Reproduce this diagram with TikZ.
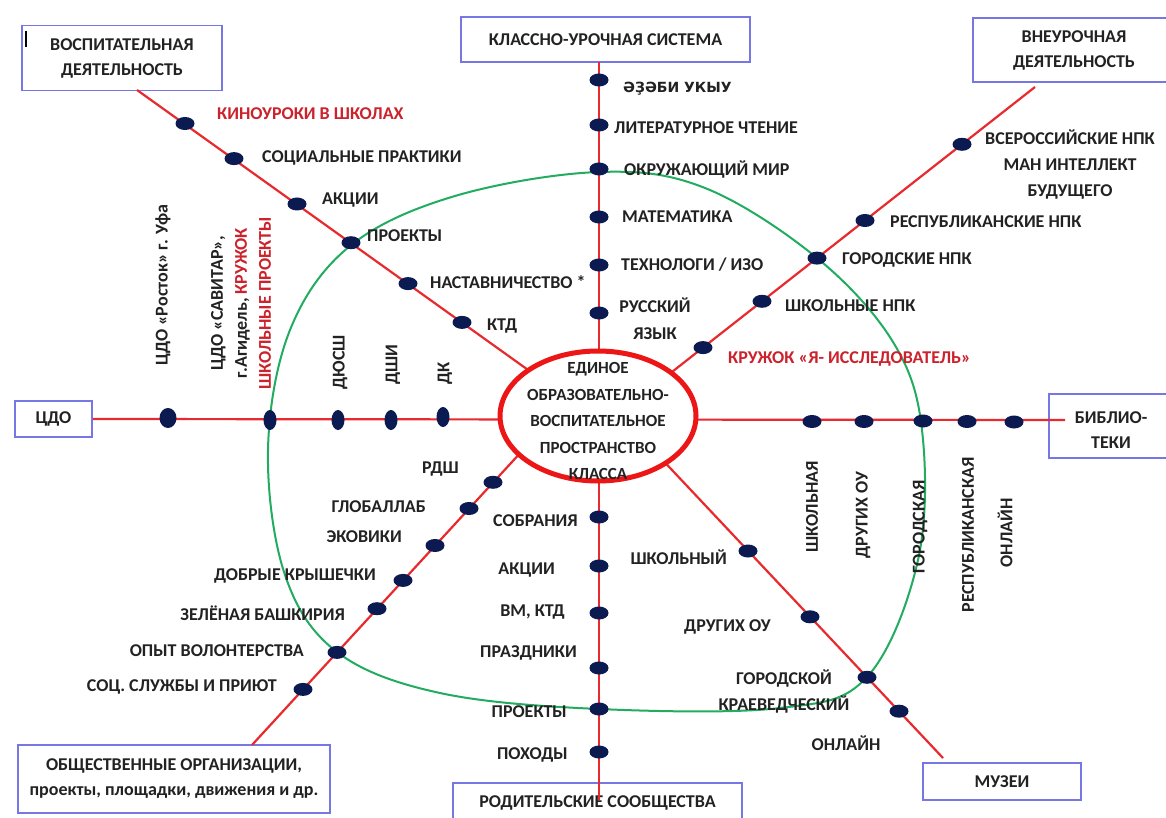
\documentclass[tikz,border=0pt]{standalone}
\usepackage{fontspec}
\setmainfont{Carlito}
\newfontfamily\dvs{DejaVu Sans}
\usetikzlibrary{shapes.geometric}
\definecolor{lnred}{RGB}{232,42,46}
\definecolor{hubred}{RGB}{236,22,22}
\definecolor{dotblue}{RGB}{12,26,82}
\definecolor{grn}{RGB}{34,172,96}
\definecolor{boxc}{RGB}{118,118,228}
\definecolor{txt}{RGB}{34,34,34}
\definecolor{rtxt}{RGB}{204,34,44}
\tikzset{
  rline/.style={draw=lnred, line width=2.2pt},
  gline/.style={draw=grn, line width=2pt},
  dotn/.style={ellipse, fill=dotblue, minimum width=19pt, minimum height=13pt, inner sep=0pt},
  vdotn/.style={ellipse, fill=dotblue, minimum width=13pt, minimum height=20pt, inner sep=0pt},
  boxn/.style={draw=boxc, line width=1.8pt, align=center, inner sep=0pt, text=txt,
    font=\bfseries\fontsize{18}{25}\selectfont},
  lbl/.style={font=\bfseries\fontsize{18}{26}\selectfont, text=txt, inner sep=0pt},
  rlbl/.style={lbl, text=rtxt},
}
\begin{document}
\begin{tikzpicture}[x=1pt,y=-1pt]
\useasboundingbox[fill=white] (0,0) rectangle (1166,818);

% ---------- boxes ----------
\node[boxn, minimum width=200pt, minimum height=65pt] (bVD) at (122,58) {ВОСПИТАТЕЛЬНАЯ\\ДЕЯТЕЛЬНОСТЬ};
\draw[line width=1.5pt, black] (26,31) -- (26,47);
\node[boxn, minimum width=289pt, minimum height=45pt] (bKUS) at (605.5,39.5) {КЛАССНО-УРОЧНАЯ СИСТЕМА};
\node[boxn, minimum width=202pt, minimum height=64pt] (bVUD) at (1074,50) {ВНЕУРОЧНАЯ\\ДЕЯТЕЛЬНОСТЬ};
\node[boxn, minimum width=77pt, minimum height=36pt] (bCDO) at (53.5,419) {ЦДО};
\node[boxn, minimum width=126pt, minimum height=64pt] (bBIB) at (1112,426) {};
\node[lbl, align=center, font=\bfseries\fontsize{18}{25}\selectfont] (tBIB) at (1111,430) {БИБЛИО-\\ТЕКИ};
\node[boxn, minimum width=312pt, minimum height=68pt] (bOBS) at (174,779) {ОБЩЕСТВЕННЫЕ ОРГАНИЗАЦИИ,\\проекты, площадки, движения и др.};
\node[boxn, minimum width=289pt, minimum height=40pt] (bROD) at (597.5,803) {РОДИТЕЛЬСКИЕ СООБЩЕСТВА};
\node[boxn, minimum width=158pt, minimum height=37pt] (bMUZ) at (1002,781.5) {МУЗЕИ};

% ---------- line end points ----------
\coordinate (nwA) at (137,90);
\coordinate (nwB) at (598,420);
\coordinate (vA) at (599,62);
\coordinate (vB) at (599,800);
\coordinate (neA) at (1035,87);
\coordinate (neB) at (598,430);
\coordinate (hlA) at (bCDO.east);
\coordinate (hlB) at (1065,420);
\coordinate (swA) at (252,745);
\coordinate (swB) at (545,426);
\coordinate (seA) at (640,436);
\coordinate (seB) at (943,758);

\draw[rline] (nwA) -- (nwB);
\draw[rline] (vA) -- (vB);
\draw[rline] (neA) -- (neB);
\draw[rline] (hlA) -- (hlB);
\draw[rline] (swA) -- (swB);
\draw[rline] (seA) -- (seB);

% ---------- green contour ----------
\draw[gline] plot[smooth cycle, tension=0.6] coordinates {
 (599,172) (705,188) (817,258) (893,342) (922,430) (918,560)
 (867,677) (780,708) (599,709) (440,693) (337,652) (285,575)
 (268,450) (290,330) (350,246) (455,196)};

% ---------- hub ----------
\node[ellipse, draw=hubred, fill=white, line width=5pt, minimum width=196pt, minimum height=130pt, inner sep=0pt] (hub) at (598,416) {};
\node[lbl, align=center, font=\bfseries\fontsize{17}{26.5}\selectfont] (hubtxt) at (598,421) {ЕДИНОЕ\\ОБРАЗОВАТЕЛЬНО-\\ВОСПИТАТЕЛЬНОЕ\\ПРОСТРАНСТВО\\КЛАССА};

% ---------- dots ----------
\node[dotn] (n1) at (185,123.5) {};
\node[dotn] (n2) at (234,158.6) {};
\node[dotn] (n3) at (297,204) {};
\node[dotn] (n4) at (351,242.7) {};
\node[dotn] (n5) at (408,283.6) {};
\node[dotn] (n6) at (462,322.4) {};

\node[dotn] (u1) at (599,80) {};
\node[dotn] (u2) at (599,125) {};
\node[dotn] (u3) at (599,169) {};
\node[dotn] (u4) at (599,217) {};
\node[dotn] (u5) at (599,265) {};
\node[dotn] (u6) at (599,313) {};

\node[dotn] (e1) at (962,144.3) {};
\node[dotn] (e2) at (865,220.5) {};
\node[dotn] (e3) at (817,258.1) {};
\node[dotn] (e4) at (762,301.3) {};
\node[dotn] (e5) at (703,347.6) {};

\node[vdotn, minimum width=17pt] (h1) at (168,418) {};
\node[vdotn] (h2) at (270,420) {};
\node[vdotn] (h3) at (338,420) {};
\node[vdotn] (h4) at (391,420) {};
\node[vdotn] (h5) at (443,417) {};

\node[dotn] (r1) at (812,421.5) {};
\node[dotn] (r2) at (864,421.5) {};
\node[dotn] (r3) at (923,421) {};
\node[dotn] (r4) at (967,421.5) {};
\node[dotn] (r5) at (1014,422) {};

\node[dotn] (s1) at (493,482.3) {};
\node[dotn] (s2) at (469,508.5) {};
\node[dotn] (s3) at (435,545.5) {};
\node[dotn] (s4) at (403,580.4) {};
\node[dotn] (s5) at (377,608.7) {};
\node[dotn] (s6) at (337,652.4) {};
\node[dotn] (s7) at (303,689.4) {};

\node[dotn] (d1) at (599,517) {};
\node[dotn] (d2) at (599,566) {};
\node[dotn] (d3) at (599,613) {};
\node[dotn] (d4) at (599,668) {};
\node[dotn] (d5) at (599,709) {};
\node[dotn] (d6) at (599,752) {};

\node[dotn] (m1) at (748,551) {};
\node[dotn] (m2) at (810,616.8) {};
\node[dotn] (m3) at (867,677.3) {};
\node[dotn] (m4) at (899,711.2) {};

% ---------- labels: NW ----------
\node[rlbl, anchor=west] (tn1) at (217,114) {КИНОУРОКИ В ШКОЛАХ};
\node[lbl, anchor=west] (tn2) at (262,158) {СОЦИАЛЬНЫЕ ПРАКТИКИ};
\node[lbl, anchor=west] (tn3) at (322,200) {АКЦИИ};
\node[lbl, anchor=west] (tn4) at (367,236) {ПРОЕКТЫ};
\node[lbl, anchor=west] (tn5) at (430,282) {НАСТАВНИЧЕСТВО *};
\node[lbl, anchor=west] (tn6) at (487,326) {КТД};

% ---------- labels: up ----------
\node[lbl, anchor=west, font=\dvs\bfseries\fontsize{14}{16}\selectfont] (tu1) at (623,89) {ӘҘӘБИ УКЫУ};
\node[lbl, anchor=west] (tu2) at (614,128) {ЛИТЕРАТУРНОЕ ЧТЕНИЕ};
\node[lbl, anchor=west] (tu3) at (624,170) {ОКРУЖАЮЩИЙ МИР};
\node[lbl, anchor=west] (tu4) at (622,217) {МАТЕМАТИКА};
\node[lbl, anchor=west] (tu5) at (621,265) {ТЕХНОЛОГИ / ИЗО};
\node[lbl, align=center] (tu6) at (655,319) {РУССКИЙ\\[1pt]ЯЗЫК};

% ---------- labels: NE ----------
\node[lbl, align=center] (te1) at (1070,165) {ВСЕРОССИЙСКИЕ НПК\\МАН ИНТЕЛЛЕКТ\\БУДУЩЕГО};
\node[lbl, anchor=west] (te2) at (890,222) {РЕСПУБЛИКАНСКИЕ НПК};
\node[lbl, anchor=west] (te3) at (842,260) {ГОРОДСКИЕ НПК};
\node[lbl, anchor=west] (te4) at (785,306) {ШКОЛЬНЫЕ НПК};
\node[rlbl, anchor=west] (te5) at (728,359) {КРУЖОК «Я- ИССЛЕДОВАТЕЛЬ»};

% ---------- labels: left vertical ----------
\node[lbl, rotate=90] (th1) at (163,285) {ЦДО «Росток» г. Уфа};
\node[lbl, rotate=90, align=center, font=\bfseries\fontsize{18}{24}\selectfont] (th2) at (241,303) {ЦДО «САВИТАР»,\\г.Агидель, \textcolor{rtxt}{КРУЖОК}\\\textcolor{rtxt}{ШКОЛЬНЫЕ ПРОЕКТЫ}};
\node[lbl, rotate=90] (th3) at (340,362) {ДЮСШ};
\node[lbl, rotate=90] (th4) at (393,365) {ДШИ};
\node[lbl, rotate=90] (th5) at (445,373) {ДК};

% ---------- labels: right vertical ----------
\node[lbl, rotate=90] (tr1) at (812,507) {ШКОЛЬНАЯ};
\node[lbl, rotate=90] (tr2) at (863,515) {ДРУГИХ ОУ};
\node[lbl, rotate=90] (tr3) at (920,527) {ГОРОДСКАЯ};
\node[lbl, rotate=90] (tr4) at (968,535) {РЕСПУБЛИКАНСКАЯ};
\node[lbl, rotate=90] (tr5) at (1005,533) {ОНЛАЙН};

% ---------- labels: SW ----------
\node[lbl, anchor=east] (ts1) at (459,469) {РДШ};
\node[lbl, anchor=east] (ts2) at (426,507) {ГЛОБАЛЛАБ};
\node[lbl, anchor=east] (ts3) at (402,537) {ЭКОВИКИ};
\node[lbl, anchor=east] (ts4) at (376,576) {ДОБРЫЕ КРЫШЕЧКИ};
\node[lbl, anchor=east] (ts5) at (345,613) {ЗЕЛЁНАЯ БАШКИРИЯ};
\node[lbl, anchor=east] (ts6) at (304,651) {ОПЫТ ВОЛОНТЕРСТВА};
\node[lbl, anchor=east] (ts7) at (277,687) {СОЦ. СЛУЖБЫ И ПРИЮТ};

% ---------- labels: down ----------
\node[lbl, anchor=east] (td1) at (578,521) {СОБРАНИЯ};
\node[lbl, anchor=east] (td2) at (555,570) {АКЦИИ};
\node[lbl, anchor=east] (td3) at (565,612) {ВМ, КТД};
\node[lbl, anchor=east] (td4) at (577,653) {ПРАЗДНИКИ};
\node[lbl, anchor=east] (td5) at (567,712) {ПРОЕКТЫ};
\node[lbl, anchor=east] (td6) at (568,755) {ПОХОДЫ};

% ---------- labels: SE ----------
\node[lbl, anchor=east] (tm1) at (727,557) {ШКОЛЬНЫЙ};
\node[lbl, anchor=east] (tm2) at (771,627) {ДРУГИХ ОУ};
\node[lbl, align=center] (tm3) at (784,692) {ГОРОДСКОЙ\\КРАЕВЕДЧЕСКИЙ};
\node[lbl] (tm4) at (846,743) {ОНЛАЙН};
\end{tikzpicture}
\end{document}
